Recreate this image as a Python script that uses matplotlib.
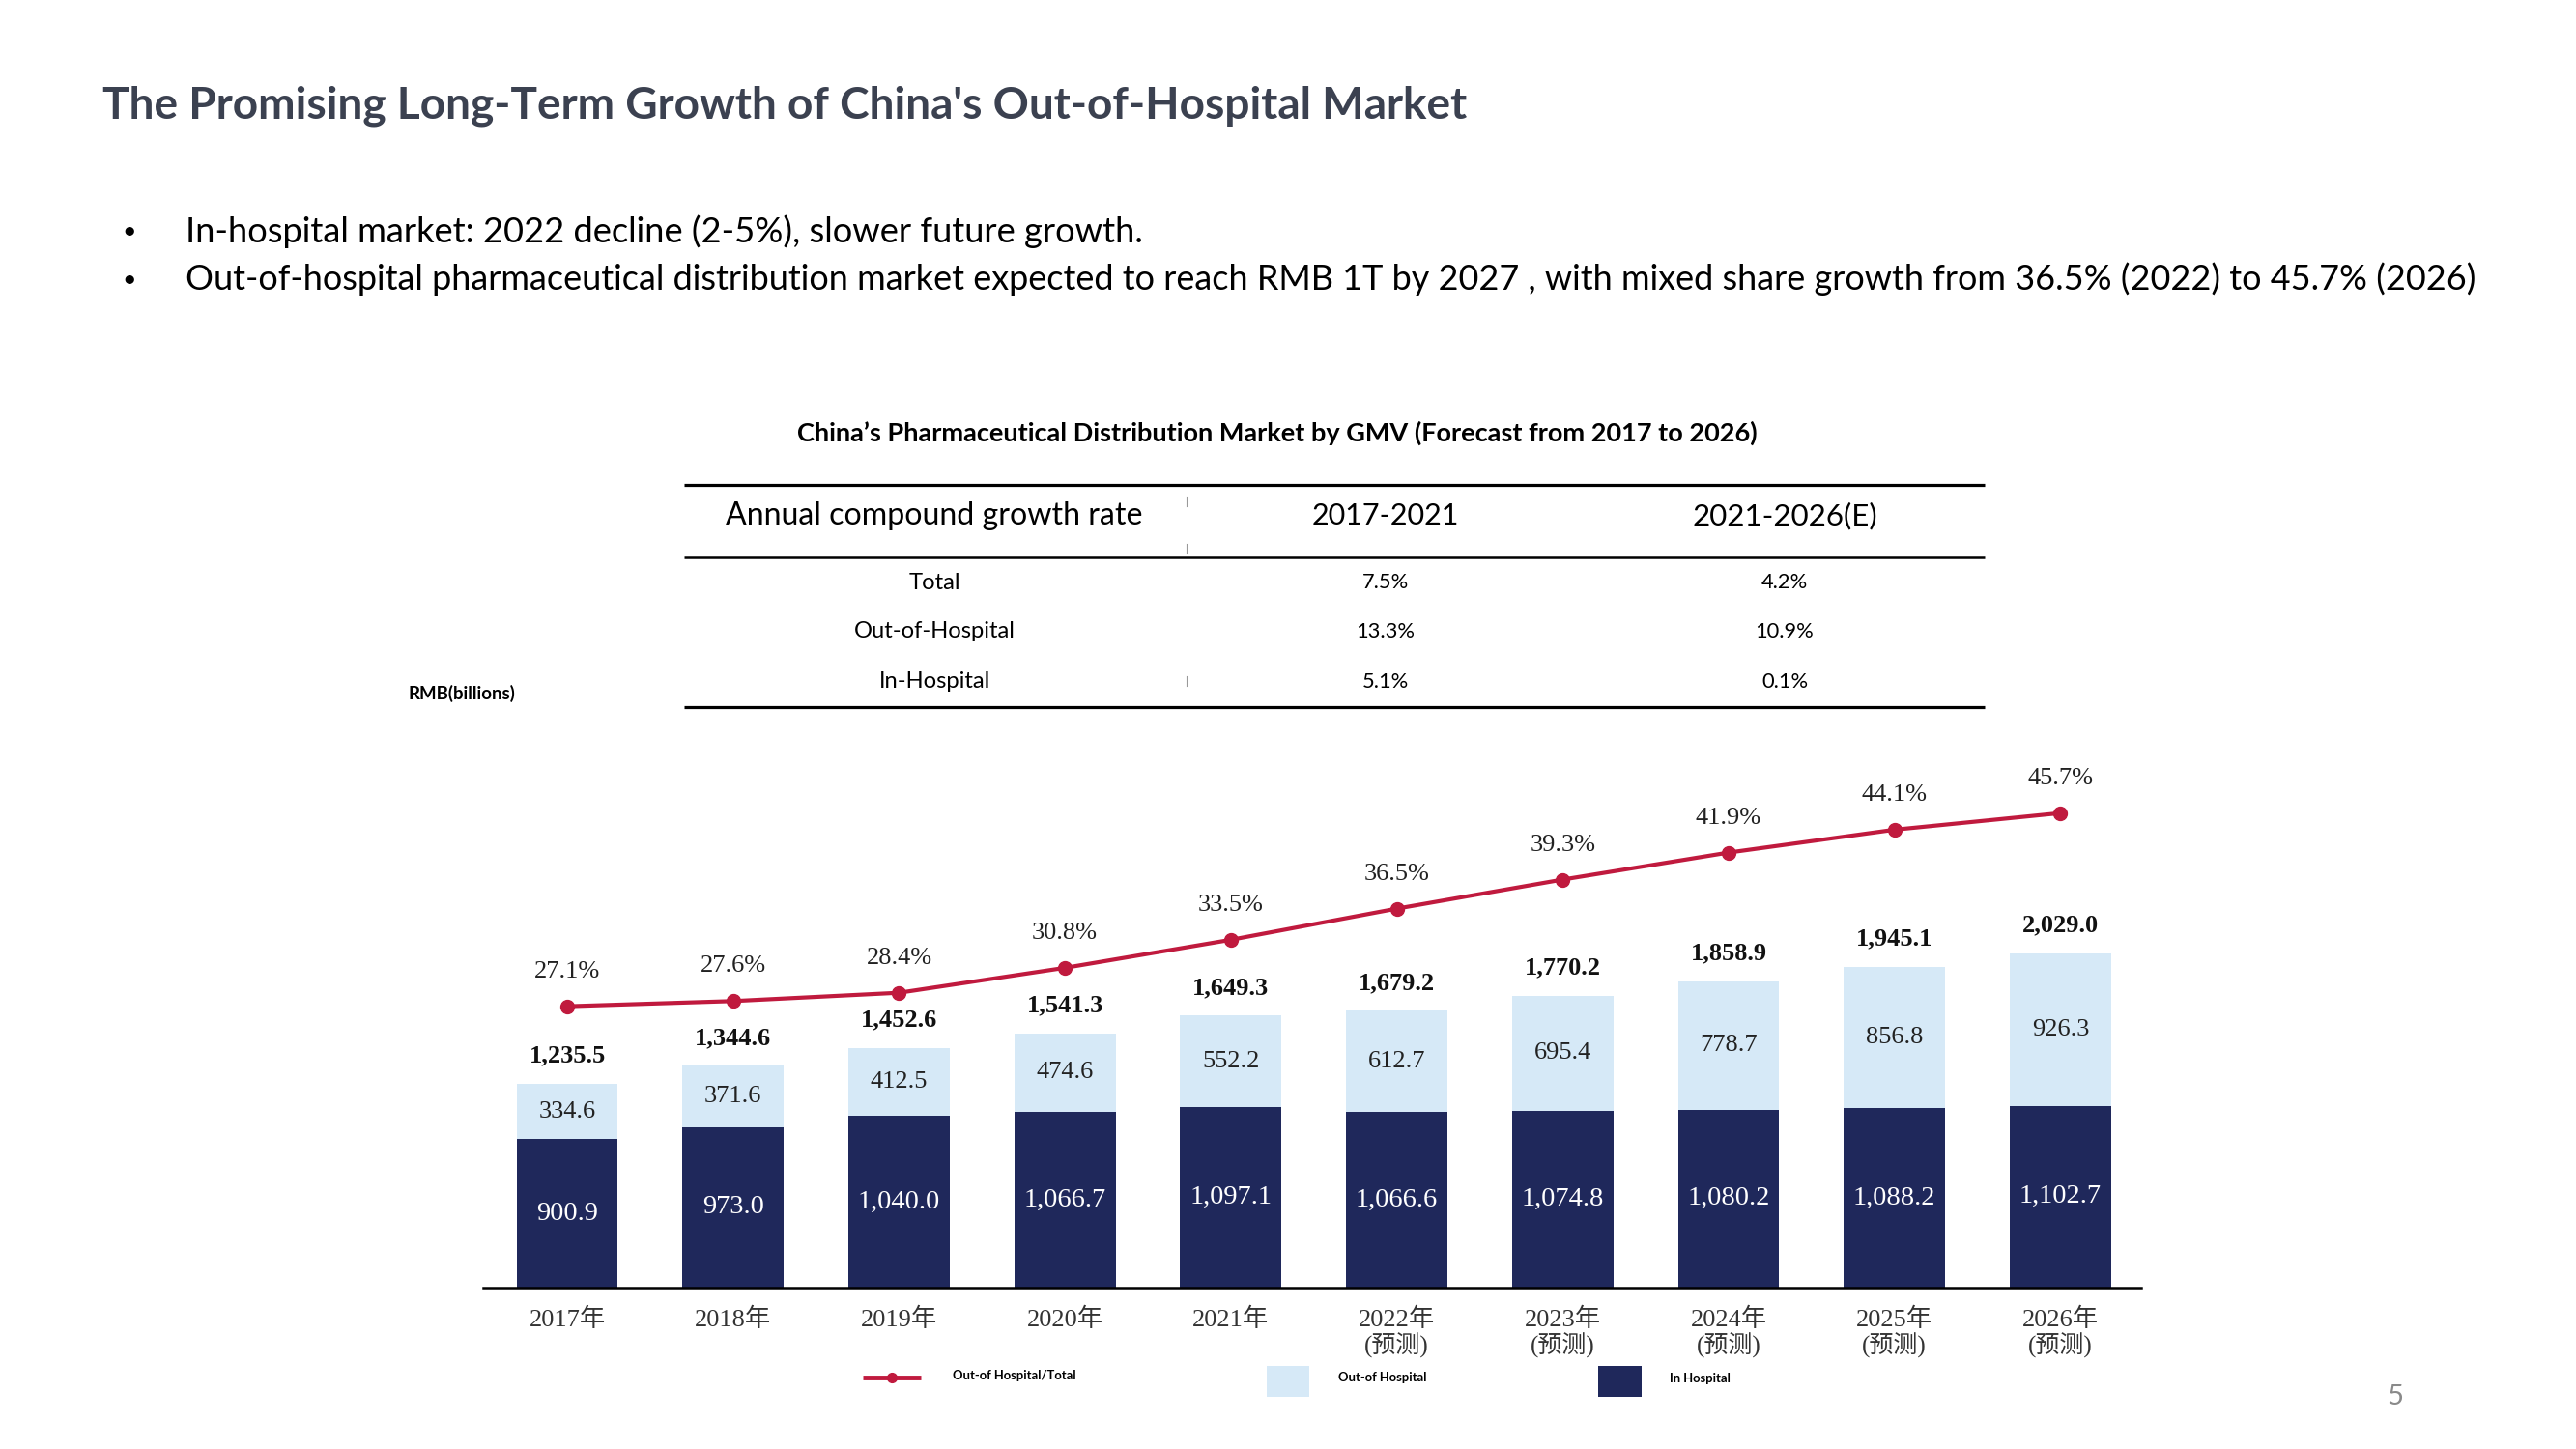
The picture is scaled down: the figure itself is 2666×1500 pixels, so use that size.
import matplotlib
matplotlib.use("Agg")
import matplotlib.pyplot as plt
import matplotlib.transforms as mtransforms
from matplotlib.patches import Rectangle
import numpy as np

# ---------------- data ----------------
years = ["2017年", "2018年", "2019年", "2020年", "2021年",
         "2022年", "2023年", "2024年", "2025年", "2026年"]
forecast = [False, False, False, False, False, True, True, True, True, True]
in_hospital = [900.9, 973.0, 1040.0, 1066.7, 1097.1, 1066.6, 1074.8, 1080.2, 1088.2, 1102.7]
out_hospital = [334.6, 371.6, 412.5, 474.6, 552.2, 612.7, 695.4, 778.7, 856.8, 926.3]
totals = [1235.5, 1344.6, 1452.6, 1541.3, 1649.3, 1679.2, 1770.2, 1858.9, 1945.1, 2029.0]
share_pct = [27.1, 27.6, 28.4, 30.8, 33.5, 36.5, 39.3, 41.9, 44.1, 45.7]

table_header = ["Annual compound growth rate", "2017-2021", "2021-2026(E)"]
table_rows = ["Total", "Out-of-Hospital", "In-Hospital"]
cagr_2017_2021 = ["7.5%", "13.3%", "5.1%"]
cagr_2021_2026 = ["4.2%", "10.9%", "0.1%"]

title = "The Promising Long-Term Growth of China's Out-of-Hospital Market"
bullets = ["In-hospital market: 2022 decline (2-5%), slower future growth.",
           "Out-of-hospital pharmaceutical distribution market expected to reach RMB 1T by 2027 , "
           "with mixed share growth from 36.5% (2022) to 45.7% (2026)"]
chart_title = "China\u2019s Pharmaceutical Distribution Market by GMV (Forecast from 2017 to 2026)"
unit_label = "RMB(billions)"
legend_labels = ["Out-of Hospital/Total", "Out-of Hospital", "In Hospital"]
forecast_note = "(预测)"
page_no = "5"

# ---------------- style ----------------
NAVY = "#1f285b"
LIGHT = "#d6e9f7"
RED = "#c01a3e"
W, H = 2666, 1500
SANS = ["Lato", "DejaVu Sans"]
SERIF_CJK = ["Liberation Serif", "Noto Sans CJK SC"]

fig = plt.figure(figsize=(W / 100, H / 100), dpi=100)
fig.patch.set_facecolor("white")

ov = fig.add_axes([0, 0, 1, 1], zorder=0)
ov.set_xlim(0, W)
ov.set_ylim(H, 0)
ov.axis("off")

renderer = fig.canvas.get_renderer()


def fit(t, width):
    bb = t.get_window_extent(renderer)
    t.set_fontsize(t.get_fontsize() * width / bb.width)
    return t


# title & bullets
t = ov.text(106, 110, title, fontsize=30, fontweight="bold", color="#3b4150",
            family=SANS, ha="left", va="center")
fit(t, 1412)
for y, txt, w in [(240, bullets[0], 993), (289, bullets[1], 2371)]:
    ov.text(134, y, "\u2022", fontsize=18, color="black", family=SANS, ha="center", va="center")
    t = ov.text(192, y, txt, fontsize=20, color="black", family=SANS, ha="left", va="center")
    fit(t, w)

# chart title
t = ov.text(1322, 448, chart_title, fontsize=14, fontweight="bold", color="black",
            family=SANS, ha="center", va="center")
fit(t, 1002)

# table
ov.plot([708, 2054], [502, 502], color="black", lw=2.3, solid_capstyle="butt")
ov.plot([708, 2054], [577, 577], color="black", lw=1.8, solid_capstyle="butt")
ov.plot([708, 2054], [732, 732], color="black", lw=2.3, solid_capstyle="butt")
for yy in [(514, 524), (563, 573), (700, 710)]:
    ov.plot([1228, 1228], yy, color="#999999", lw=0.8)
col_x = [967, 1434, 1847]
hdr_w = [432, 153, 191]
for cx, txt, w in zip(col_x, table_header, hdr_w):
    t = ov.text(cx, 534, txt, fontsize=20, color="black", family=SANS, ha="center", va="center")
    fit(t, w)
row_y = [603, 654, 706]
row_fs = None
for i, (ry, lab, a, b) in enumerate(zip(row_y, table_rows, cagr_2017_2021, cagr_2021_2026)):
    t1 = ov.text(col_x[0], ry, lab, fontsize=14, color="black", family=SANS, ha="center", va="center")
    if i == 1:
        fit(t1, 168)
        row_fs = t1.get_fontsize()
    ov.text(col_x[1], ry, a, fontsize=13, color="black", family=SANS, ha="center", va="center")
    ov.text(col_x[2], ry, b, fontsize=13, color="black", family=SANS, ha="center", va="center")
for tx in ov.texts[-9:]:
    if tx.get_text() in table_rows:
        tx.set_fontsize(row_fs)
    else:
        tx.set_fontsize(row_fs * 0.92)

# unit label
t = ov.text(423, 718, unit_label, fontsize=12, fontweight="bold", color="black",
            family=SANS, ha="left", va="center")
fit(t, 110)

# ---------------- chart ----------------
left, right, base, top = 500, 2216, 1333, 783
ax = fig.add_axes([left / W, (H - base) / H, (right - left) / W, (base - top) / H], zorder=2)
ax.patch.set_alpha(0)
x = np.arange(len(years))
bar_w = 0.61
ax.bar(x, in_hospital, width=bar_w, color=NAVY, zorder=2)
ax.bar(x, out_hospital, width=bar_w, bottom=in_hospital, color=LIGHT, zorder=2)
ax.set_xlim(-0.507, 9.487)
ax.set_ylim(0, (base - top) / 0.1707)
for s in ["top", "left", "right"]:
    ax.spines[s].set_visible(False)
ax.spines["bottom"].set_linewidth(1.8)
ax.spines["bottom"].set_color("black")
ax.set_xticks([])
ax.set_yticks([])

for i in range(len(years)):
    ih, oh, tot = in_hospital[i], out_hospital[i], totals[i]
    ax.text(x[i], ih / 2, f"{ih:,.1f}", ha="center", va="center", color="white",
            fontsize=20.5, family=SERIF_CJK, zorder=3)
    ax.text(x[i], ih + oh / 2, f"{oh:,.1f}", ha="center", va="center", color="#222222",
            fontsize=19, family=SERIF_CJK, zorder=3)
    ax.annotate(f"{tot:,.1f}", xy=(x[i], ih + oh), xytext=(0, 29), textcoords="offset pixels",
                ha="center", va="center", fontsize=19, fontweight="bold", color="#111111",
                family=SERIF_CJK, zorder=3)

ax2 = ax.twinx()
ax2.set_ylim(0, (base - top) / 10.75)
ax2.axis("off")
ax2.plot(x, share_pct, color=RED, lw=3, marker="o", markersize=10, zorder=4)
for i, p in enumerate(share_pct):
    ax2.annotate(f"{p:.1f}%", xy=(x[i], p), xytext=(0, 36), textcoords="offset pixels",
                 ha="center", va="center", fontsize=19, color="#222222", family=SERIF_CJK)

# x labels
blend = mtransforms.blended_transform_factory(ax.transData, ov.transData)
for i, yl in enumerate(years):
    ov.text(x[i], 1366, yl, transform=blend, ha="center", va="center", fontsize=19,
            color="#333333", family=SERIF_CJK)
    if forecast[i]:
        ov.text(x[i], 1393, forecast_note, transform=blend, ha="center", va="center",
                fontsize=18, color="#333333", family=SERIF_CJK)

# legend
ov.plot([893, 953], [1426, 1426], color=RED, lw=3.5, solid_capstyle="butt")
ov.plot([923], [1426], marker="o", markersize=7, color=RED)
t = ov.text(986, 1424, legend_labels[0], fontsize=10, fontweight="bold", color="black",
            family=SANS, ha="left", va="center")
fit(t, 127)
lfs = t.get_fontsize()
ov.add_patch(Rectangle((1311, 1414), 44, 32, facecolor=LIGHT, edgecolor="none"))
ov.text(1385, 1426, legend_labels[1], fontsize=lfs, fontweight="bold", color="black",
        family=SANS, ha="left", va="center")
ov.add_patch(Rectangle((1654, 1414), 45, 32, facecolor=NAVY, edgecolor="none"))
ov.text(1728, 1427, legend_labels[2], fontsize=lfs, fontweight="bold", color="black",
        family=SANS, ha="left", va="center")

# page number
ov.text(2479, 1446, page_no, fontsize=21, color="#8a8a8a", family=SANS, ha="center", va="center")

fig.savefig("out.png", dpi=100, facecolor="white")
